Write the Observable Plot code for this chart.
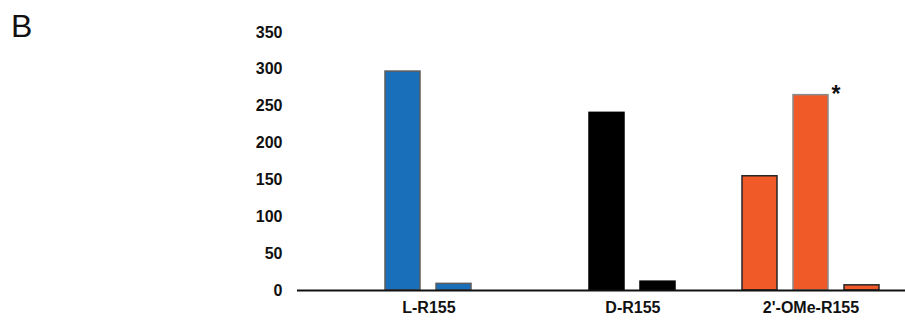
<!DOCTYPE html>
<html>
<head>
<meta charset="utf-8">
<script src="https://cdn.jsdelivr.net/npm/d3@7"></script>
<script src="https://cdn.jsdelivr.net/npm/@observablehq/plot@0.6"></script>
<style>
  body { margin: 0; background: #fff; }
  #wrap { position: relative; width: 905px; height: 322px; }
  #panel { position: absolute; left: 11px; top: 10px; font: 32px/32px "Liberation Sans", Arial, sans-serif; color: #111; }
  #chart svg { display: block; }
</style>
</head>
<body>
<div id="wrap">
  <div id="panel">B</div>
  <div id="chart"></div>
</div>
<script>
// Groups and the values of their bars
const categories = ["L-R155", "D-R155", "2'-OMe-R155"];
const lValues = [297, 9];
const dValues = [241, 12];
const omeValues = [155, 265, 7];
const yTicks = [0, 50, 100, 150, 200, 250, 300, 350];
const marked = {category: "2'-OMe-R155", index: 1, text: "*"};

// Per-group styling
const groupFill = ["#1a6fba", "#000000", "#f05a28"];
const groupStroke = [["#5c5c5c", "#5c5c5c"], ["#000000", "#000000"], ["#262626", "#8a8a8a", "#262626"]];

const groupValues = [lValues, dValues, omeValues];
const bars = categories.flatMap((c, i) =>
  groupValues[i].map((v, j) => ({
    key: `${c}#${j}`, category: c, index: j, value: v,
    fill: groupFill[i], stroke: groupStroke[i][j]
  }))
);

// band domain: each group's bars, with empty slots separating the groups
const xDomain = [
  ...bars.filter(d => d.category === categories[0]).map(d => d.key), "gap-1", "gap-2",
  ...bars.filter(d => d.category === categories[1]).map(d => d.key), "gap-3",
  ...bars.filter(d => d.category === categories[2]).map(d => d.key)
];

const labels = categories.map((c, i) => ({category: c, n: groupValues[i].length}));
const step = 51.8;

const chart = Plot.plot({
  width: 905,
  height: 322,
  marginLeft: 297,
  marginRight: 0,
  marginTop: 32,
  marginBottom: 32,
  style: {fontFamily: "'Liberation Sans', Arial, sans-serif", fontSize: "16px", fontWeight: "bold", color: "#111", background: "transparent"},
  x: {domain: xDomain, paddingInner: 0.305, paddingOuter: 1.024, align: 0.774, axis: null},
  y: {domain: [0, 350], ticks: yTicks, tickSize: 0, tickPadding: 15, label: null},
  marks: [
    Plot.barY(bars, {x: "key", y: "value", fill: "fill", stroke: "stroke", strokeWidth: 1.5}),
    Plot.ruleY([0], {stroke: "#111", strokeWidth: 2}),
    // group labels centred under their bars
    Plot.text(labels.filter(d => d.n === 2), {x: d => `${d.category}#0`, y: 0, text: "category", dx: step / 2, dy: 17, fontSize: 16, fontWeight: "bold", fill: "#111"}),
    Plot.text(labels.filter(d => d.n === 3), {x: d => `${d.category}#1`, y: 0, text: "category", dy: 17, fontSize: 16, fontWeight: "bold", fill: "#111"}),
    Plot.text(bars.filter(d => d.category === marked.category && d.index === marked.index), {x: "key", y: "value", text: () => marked.text, dx: 25, dy: -1, fontSize: 23, fontWeight: "bold", fill: "#111"})
  ]
});
document.getElementById("chart").appendChild(chart);
</script>
</body>
</html>
